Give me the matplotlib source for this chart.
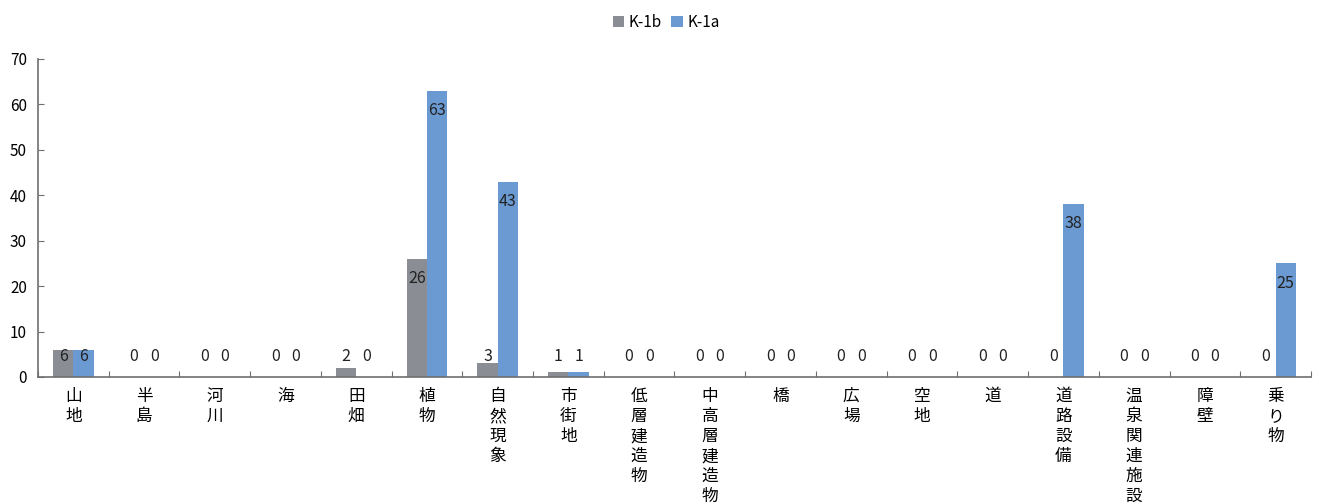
import matplotlib
matplotlib.use("Agg")
import matplotlib.pyplot as plt
import numpy as np

plt.rcParams['font.family'] = ['Noto Sans CJK JP', 'DejaVu Sans']

categories = ['山地', '半島', '河川', '海', '田畑', '植物', '自然現象', '市街地',
              '低層建造物', '中高層建造物', '橋', '広場', '空地', '道', '道路設備',
              '温泉関連施設', '障壁', '乗り物']
k1b = [6, 0, 0, 0, 2, 26, 3, 1, 0, 0, 0, 0, 0, 0, 0, 0, 0, 0]
k1a = [6, 0, 0, 0, 0, 63, 43, 1, 0, 0, 0, 0, 0, 0, 38, 0, 0, 25]
series_names = ['K-1b', 'K-1a']
colors = ['#8B8D95', '#6A9AD1']

fig = plt.figure(figsize=(13.19, 5.04), dpi=100)
ax = fig.add_axes([0.0288, 0.252, 0.9651, 0.631])

x = np.arange(len(categories))
w = 0.287
axis_color = '#6E6E6E'
num_size = 11.5

for i, (vals, name, c) in enumerate(zip([k1b, k1a], series_names, colors)):
    pos = x + (i - 0.5) * w
    ax.bar(pos, vals, width=w, color=c, label=name, zorder=2)
    for px, v in zip(pos, vals):
        if v >= 10:
            ax.annotate(str(v), xy=(px, v), xytext=(0, -8), textcoords='offset points',
                        ha='center', va='top', fontsize=num_size, color='#222222')
        elif v >= 5:
            ax.annotate(str(v), xy=(px, v), xytext=(0, 1), textcoords='offset points',
                        ha='center', va='top', fontsize=num_size, color='#222222')
        else:
            ax.annotate(str(v), xy=(px, 0), xytext=(0, 14.5), textcoords='offset points',
                        ha='center', va='center', fontsize=num_size, color='#222222')

ax.set_xlim(-0.5, len(categories) - 0.5)
ax.set_ylim(0, 70)
ax.set_yticks(range(0, 71, 10))

# category boundaries carry the ticks, labels sit at the centres
ax.set_xticks(np.arange(len(categories) + 1) - 0.5)
ax.set_xticklabels([])
ax.set_xticks(x, minor=True)
ax.set_xticklabels(['\n'.join(c) for c in categories], minor=True,
                   va='top', fontsize=12, linespacing=1.23)
ax.tick_params(axis='x', which='minor', length=0, pad=8)
ax.tick_params(axis='x', which='major', direction='in', length=4, color=axis_color)
ax.tick_params(axis='y', direction='in', length=4, color=axis_color, labelsize=11, pad=8)

for s in ['top', 'right']:
    ax.spines[s].set_visible(False)
for s in ['left', 'bottom']:
    ax.spines[s].set_color(axis_color)
    ax.spines[s].set_linewidth(1.2)

fig.legend(loc='upper center', bbox_to_anchor=(0.505, 1.0), ncol=2, frameon=False,
           fontsize=11, handlelength=0.75, handleheight=0.75, handletextpad=0.3,
           columnspacing=0.6)

fig.savefig('out.png', dpi=100)
